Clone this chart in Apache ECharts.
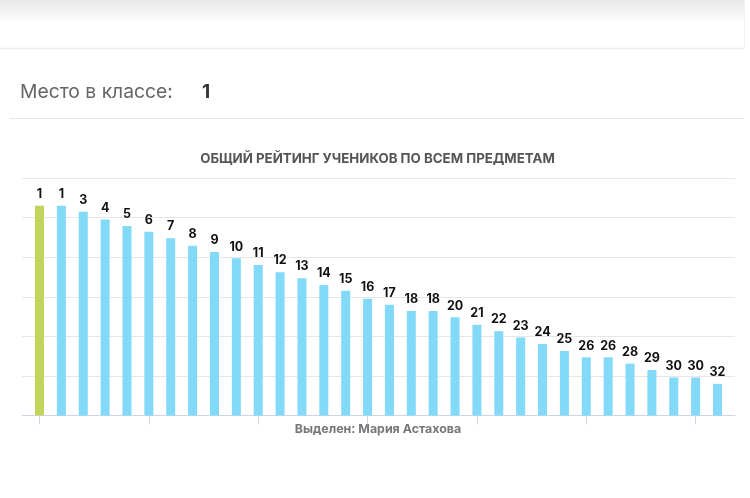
<!DOCTYPE html>
<html><head><meta charset="utf-8">
<script src="https://cdn.jsdelivr.net/npm/echarts@6/dist/echarts.min.js"></script>
<style>html,body{margin:0;padding:0;background:#fff}#c{width:750px;height:498px}</style>
</head><body><div id="c"></div>
<script>
const ranks = [1,1,3,4,5,6,7,8,9,10,11,12,13,14,15,16,17,18,18,20,21,22,23,24,25,26,26,28,29,30,30,32];
const scores = [5.30,5.30,5.15,4.95,4.79,4.64,4.48,4.29,4.13,3.97,3.80,3.62,3.47,3.30,3.15,2.95,2.80,2.64,2.64,2.48,2.29,2.13,1.97,1.81,1.63,1.47,1.47,1.31,1.15,0.96,0.96,0.80];
const highlighted = 0;
const tickPositions = [0,5,10,15,20,25,30];
const titleText = 'ОБЩИЙ РЕЙТИНГ УЧЕНИКОВ ПО ВСЕМ ПРЕДМЕТАМ';
const subtitleText = 'Выделен: Мария Астахова';
const placeLabel = 'Место в классе:';
const placeValue = '1';

const chart = echarts.init(document.getElementById('c'), null, {renderer:'canvas'});
const FONT = 'Inter, "Open Sans", sans-serif';
chart.setOption({
  animation:false,
  textStyle:{fontFamily:FONT},
  grid:{left:22,right:15,top:178,bottom:82.5,containLabel:false},
  xAxis:{type:'value',min:-0.8,max:31.8,
    splitLine:{show:false},
    axisLabel:{show:false},
    axisLine:{show:true,lineStyle:{color:'#ccd6eb',width:1}},
    axisTick:{show:true,length:9,customValues:tickPositions,lineStyle:{color:'#ccd6eb'}}
  },
  yAxis:{type:'value',min:0,max:6,interval:1,
    axisLabel:{show:false},axisLine:{show:false},axisTick:{show:false},
    splitLine:{lineStyle:{color:'#e6e6e6',width:1}}
  },
  series:[{
    type:'bar',barWidth:9,
    data:scores.map((v,i)=>({value:[i,v],itemStyle:{color:i===highlighted?'#c3d45b':'#82d9f8'}})),
    label:{show:true,position:'top',distance:5,fontFamily:FONT,fontWeight:'bold',fontSize:12.5,color:'#111',
      formatter:p=>String(ranks[p.dataIndex])}
  }],
  graphic:[
    {type:'rect',shape:{x:0,y:0,width:744,height:24},silent:true,
      style:{fill:new echarts.graphic.LinearGradient(0,0,0,1,[{offset:0,color:'rgba(0,0,0,0.09)'},{offset:1,color:'rgba(0,0,0,0)'}])}},
    {type:'line',shape:{x1:0,y1:48.5,x2:744,y2:48.5},style:{stroke:'#ececec',lineWidth:1.5},silent:true},
    {type:'line',shape:{x1:744.5,y1:0,x2:744.5,y2:48},style:{stroke:'#f0f0f0',lineWidth:1},silent:true},
    {type:'line',shape:{x1:10,y1:118.5,x2:744,y2:118.5},style:{stroke:'#e8e8e8',lineWidth:1},silent:true},
    {type:'text',x:20,y:92,style:{text:placeLabel,font:'19.3px '+FONT,fill:'#666',verticalAlign:'middle'}},
    {type:'text',x:202,y:92,style:{text:placeValue,font:'bold 19px '+FONT,fill:'#333',verticalAlign:'middle'}},
    {type:'text',x:377.5,y:159,style:{text:titleText,font:'bold 13.3px '+FONT,fill:'#555',align:'center',verticalAlign:'middle'}},
    {type:'text',x:378,y:429,style:{text:subtitleText,font:'bold 12.4px '+FONT,fill:'#777',align:'center',verticalAlign:'middle'}}
  ]
});
</script></body></html>
